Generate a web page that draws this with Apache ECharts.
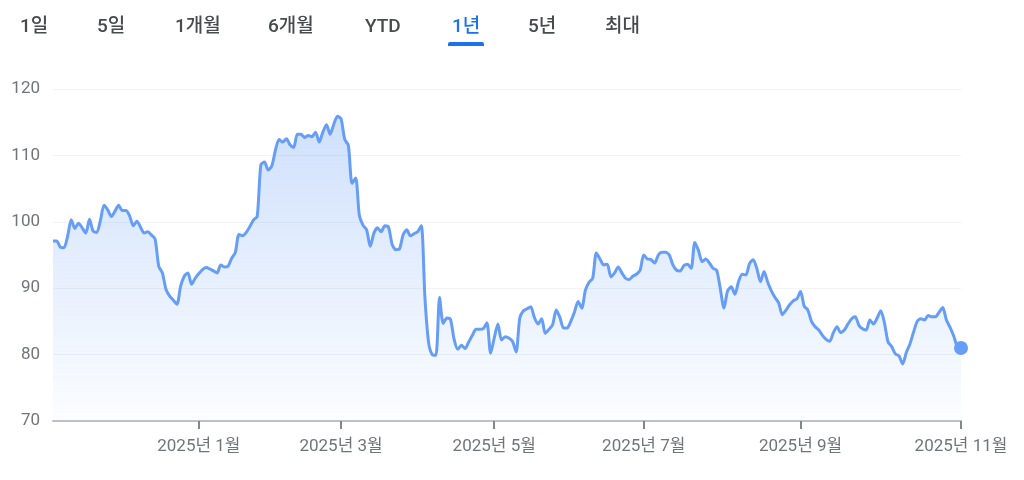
<!DOCTYPE html>
<html>
<head>
<meta charset="utf-8">
<script src="https://cdn.jsdelivr.net/npm/echarts@6/dist/echarts.min.js"></script>
<style>
html,body{margin:0;padding:0;background:#fff;}
#c{width:1024px;height:480px;}
</style>
</head>
<body>
<div id="c"></div>
<script>
// ---- data ----
const tabLabels = ['1일','5일','1개월','6개월','YTD','1년','5년','최대'];
const activeTab = '1년';
const tickLabels = ['2025년 1월','2025년 3월','2025년 5월','2025년 7월','2025년 9월','2025년 11월'];
const tickMonths = ['2025-01','2025-03','2025-05','2025-07','2025-09','2025-11'];
const yTicks = [70, 80, 90, 100, 110, 120];
const startDate = '2024-11-04';
const endDate = '2025-11-03';
const holidays = ['2024-11-28','2024-12-25','2025-01-01','2025-01-09','2025-01-20','2025-02-17',
  '2025-04-18','2025-05-26','2025-06-19','2025-07-04','2025-09-01'];
const prices = [
  97.1,97.1,96.2,96.1,97.8,100.3,99.0,99.8,99.1,98.3,
  100.4,98.6,98.4,100.2,102.5,101.8,100.8,101.6,102.5,101.7,
  101.7,100.9,99.4,100.1,99.2,98.3,98.5,98.0,97.4,93.3,
  92.3,89.8,88.8,88.2,87.6,90.3,91.8,92.3,90.6,91.5,
  92.2,92.8,93.1,92.9,92.6,92.3,93.5,93.2,93.3,94.5,
  95.4,98.1,97.9,98.4,99.3,100.3,100.8,108.6,109.0,107.8,
  108.4,110.8,112.4,112.0,112.5,111.6,111.2,113.2,113.2,112.7,
  113.0,112.8,113.5,112.0,113.5,114.6,113.2,114.7,115.9,115.5,
  112.4,111.5,105.8,106.6,101.0,99.5,98.8,96.3,98.3,99.1,
  98.5,99.4,99.2,96.6,95.8,95.9,98.0,98.8,97.9,98.2,
  98.5,99.4,88.5,81.8,80.0,79.9,88.6,84.7,85.5,85.3,
  82.3,80.8,81.4,80.9,81.9,82.9,83.8,83.8,83.9,84.8,
  80.2,82.5,84.6,82.2,82.7,82.5,82.0,80.4,85.5,86.6,
  86.9,87.2,85.6,84.6,85.4,83.2,83.8,84.5,86.7,85.6,
  84.0,84.0,85.0,86.4,88.0,87.0,89.7,90.9,91.5,95.3,
  94.4,93.5,93.6,91.7,92.3,93.2,92.3,91.5,91.3,91.8,
  92.1,92.7,95.0,94.4,94.3,93.8,95.0,95.4,95.4,95.0,
  93.5,92.7,92.6,93.4,93.6,93.0,96.9,95.7,94.0,94.4,
  93.8,93.0,92.7,89.9,87.0,89.6,90.2,89.1,91.0,92.1,
  92.0,93.7,94.3,93.0,91.0,92.5,90.9,89.6,88.6,87.8,
  86.0,86.7,87.5,88.1,88.4,89.5,87.3,86.7,85.0,84.2,
  83.7,82.9,82.3,82.0,83.3,84.2,83.3,83.7,84.6,85.4,
  85.7,84.4,83.9,83.7,85.2,84.6,85.5,86.6,84.8,81.9,
  81.2,80.1,79.8,78.6,80.3,81.6,83.4,85.0,85.4,85.2,
  85.9,85.7,85.7,86.4,87.1,85.2,84.1,82.8,81.2,81.0
];

// ---- trading-day categories ----
function tradingDays(a, b, skip) {
  const out = [];
  const d = new Date(a + 'T00:00:00Z');
  const end = new Date(b + 'T00:00:00Z');
  while (d <= end) {
    const s = d.toISOString().slice(0, 10);
    const wd = d.getUTCDay();
    if (wd !== 0 && wd !== 6 && skip.indexOf(s) < 0) out.push(s);
    d.setUTCDate(d.getUTCDate() + 1);
  }
  return out;
}
const dates = tradingDays(startDate, endDate, holidays).slice(0, prices.length);
const tickIdx = {};
tickMonths.forEach((m, k) => {
  const i = dates.findIndex(s => s.slice(0, 7) === m);
  if (i >= 0) tickIdx[i] = tickLabels[k];
});
const isTick = (i) => Object.prototype.hasOwnProperty.call(tickIdx, i);

// ---- layout ----
const tabX = [20, 97, 175, 268, 365, 452, 528, 605];
const FONT = 'Roboto, "Noto Sans CJK KR", sans-serif';
const graphics = tabLabels.map((t, k) => ({
  type: 'text', left: tabX[k], top: 18,
  style: {
    text: t, fill: t === activeTab ? '#1a73e8' : '#474a4e',
    font: '500 19px ' + FONT
  }
}));
graphics.push({
  type: 'rect', shape: { x: 448, y: 42, width: 36, height: 4, r: [2, 2, 0, 0] },
  style: { fill: '#1a73e8' }
});

const chart = echarts.init(document.getElementById('c'), null, { renderer: 'canvas' });
const lastIdx = prices.length - 1;
chart.setOption({
  animation: false,
  textStyle: { fontFamily: FONT },
  graphic: graphics,
  grid: { left: 53, right: 63, top: 89, bottom: 59, containLabel: false },
  xAxis: {
    type: 'category', data: dates, boundaryGap: false,
    axisLine: { lineStyle: { color: '#bdc1c6', width: 2 } },
    axisTick: { interval: (i) => isTick(i), length: 8, lineStyle: { color: '#80868b', width: 2 } },
    axisLabel: {
      interval: (i) => isTick(i), formatter: (v, i) => tickIdx[i] || '',
      color: '#70757a', fontSize: 17, margin: 17, fontFamily: FONT
    },
    splitLine: { show: false }
  },
  yAxis: {
    type: 'value', min: yTicks[0], max: yTicks[yTicks.length - 1], interval: 10,
    axisLine: { show: false }, axisTick: { show: false },
    axisLabel: { color: '#70757a', fontSize: 17, margin: 13, fontFamily: FONT },
    splitLine: { lineStyle: { color: '#f1f3f4', width: 1 } }
  },
  series: [
    {
      type: 'line', data: prices, symbol: 'none', smooth: 0.25,
      lineStyle: { color: '#669df6', width: 3 },
      areaStyle: {
        color: new echarts.graphic.LinearGradient(0, 0, 0, 1, [
          { offset: 0, color: 'rgba(102,157,246,0.45)' },
          { offset: 1, color: 'rgba(102,157,246,0.03)' }
        ])
      }
    },
    {
      type: 'scatter', data: [[dates[lastIdx], prices[lastIdx]]],
      symbolSize: 14, itemStyle: { color: '#669df6', opacity: 1 }, z: 5
    }
  ]
});
</script>
</body>
</html>
